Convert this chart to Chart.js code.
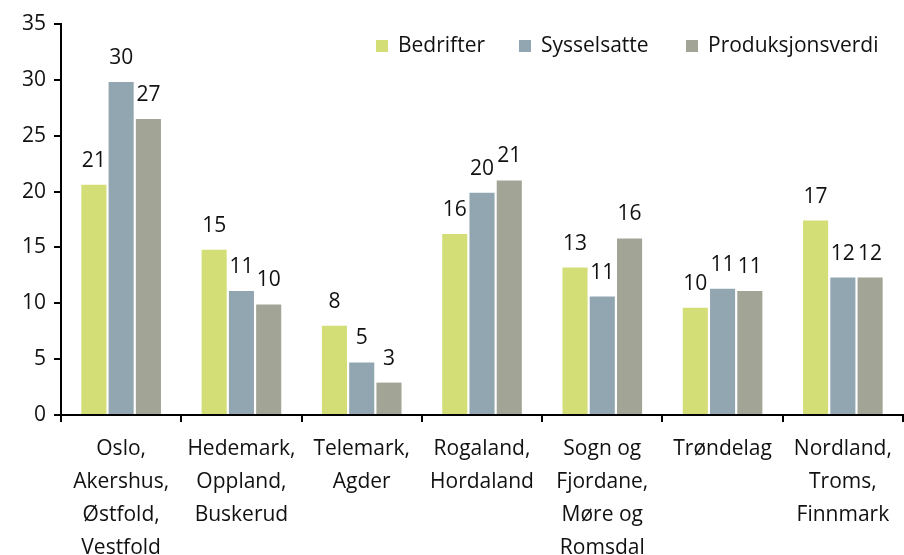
<!DOCTYPE html>
<html>
<head>
<meta charset="utf-8">
<script src="https://cdn.jsdelivr.net/npm/chart.js@4"></script>
<style>
  body { margin: 0; background: #fff; }
  #wrap { width: 904px; height: 555px; }
</style>
</head>
<body>
<div id="wrap"><canvas id="myChart"></canvas></div>
<script>
const regions = [
  ["Oslo,", "Akershus,", "Østfold,", "Vestfold"],
  ["Hedemark,", "Oppland,", "Buskerud"],
  ["Telemark,", "Agder"],
  ["Rogaland,", "Hordaland"],
  ["Sogn og", "Fjordane,", "Møre og", "Romsdal"],
  ["Trøndelag"],
  ["Nordland,", "Troms,", "Finnmark"],
];
const seriesNames = ["Bedrifter", "Sysselsatte", "Produksjonsverdi"];
const bedrifter = [20.6, 14.8, 8.0, 16.2, 13.2, 9.6, 17.4];
const sysselsatte = [29.8, 11.1, 4.7, 19.9, 10.6, 11.3, 12.3];
const produksjonsverdi = [26.5, 9.9, 2.9, 21.0, 15.8, 11.1, 12.3];
const yTicks = [0, 5, 10, 15, 20, 25, 30, 35];
const colors = ["#d3de76", "#92a6b1", "#a2a495"];

const FONT = "'Open Sans', sans-serif";
const ctx = document.getElementById("myChart");

// value labels above each bar
const valueLabels = {
  id: "valueLabels",
  afterDatasetsDraw(chart) {
    const c = chart.ctx;
    c.save();
    c.font = "21px " + FONT;
    c.fillStyle = "#111";
    c.textAlign = "center";
    c.textBaseline = "alphabetic";
    chart.data.datasets.forEach((ds, i) => {
      chart.getDatasetMeta(i).data.forEach((bar, j) => {
        c.fillText(Math.round(ds.data[j]), bar.x, bar.y - 18);
      });
    });
    c.restore();
  },
};

// legend inside the plot, top right
const insideLegend = {
  id: "insideLegend",
  afterDraw(chart) {
    const c = chart.ctx;
    const xs = [376, 519, 686];
    c.save();
    c.font = "21px " + FONT;
    c.textBaseline = "middle";
    chart.data.datasets.forEach((ds, i) => {
      c.fillStyle = ds.backgroundColor;
      c.fillRect(xs[i], 40, 12, 12);
      c.fillStyle = "#111";
      c.fillText(ds.label, xs[i] + 22, 46);
    });
    c.restore();
  },
};

new Chart(ctx, {
  type: "bar",
  data: {
    labels: regions,
    datasets: [
      { label: seriesNames[0], data: bedrifter, backgroundColor: colors[0] },
      { label: seriesNames[1], data: sysselsatte, backgroundColor: colors[1] },
      { label: seriesNames[2], data: produksjonsverdi, backgroundColor: colors[2] },
    ],
  },
  options: {
    responsive: true,
    maintainAspectRatio: false,
    animation: false,
    layout: { padding: { top: 24, right: 1, left: 0, bottom: 0 } },
    datasets: {
      bar: { categoryPercentage: 0.68, barPercentage: 0.92, borderWidth: 0 },
    },
    plugins: {
      legend: { display: false },
      tooltip: { enabled: false },
    },
    scales: {
      x: {
        border: { color: "#000", width: 2 },
        grid: { display: true, drawOnChartArea: false, color: "#000", lineWidth: 2, tickLength: 7, offset: true },
        ticks: {
          color: "#111",
          font: { family: FONT, size: 21, lineHeight: "33px" },
          padding: 11,
          maxRotation: 0,
          autoSkip: false,
        },
        afterFit: (scale) => { scale.height = 140; },
      },
      y: {
        min: 0,
        max: 35,
        border: { color: "#000", width: 2 },
        grid: { display: true, drawOnChartArea: false, color: "#000", lineWidth: 2, tickLength: 7 },
        afterBuildTicks: (scale) => { scale.ticks = yTicks.map((v) => ({ value: v })); },
        ticks: {
          color: "#111",
          font: { family: FONT, size: 21 },
          padding: 8,
        },
        afterFit: (scale) => { scale.width = 61; },
      },
    },
  },
  plugins: [valueLabels, insideLegend],
});
</script>
</body>
</html>
